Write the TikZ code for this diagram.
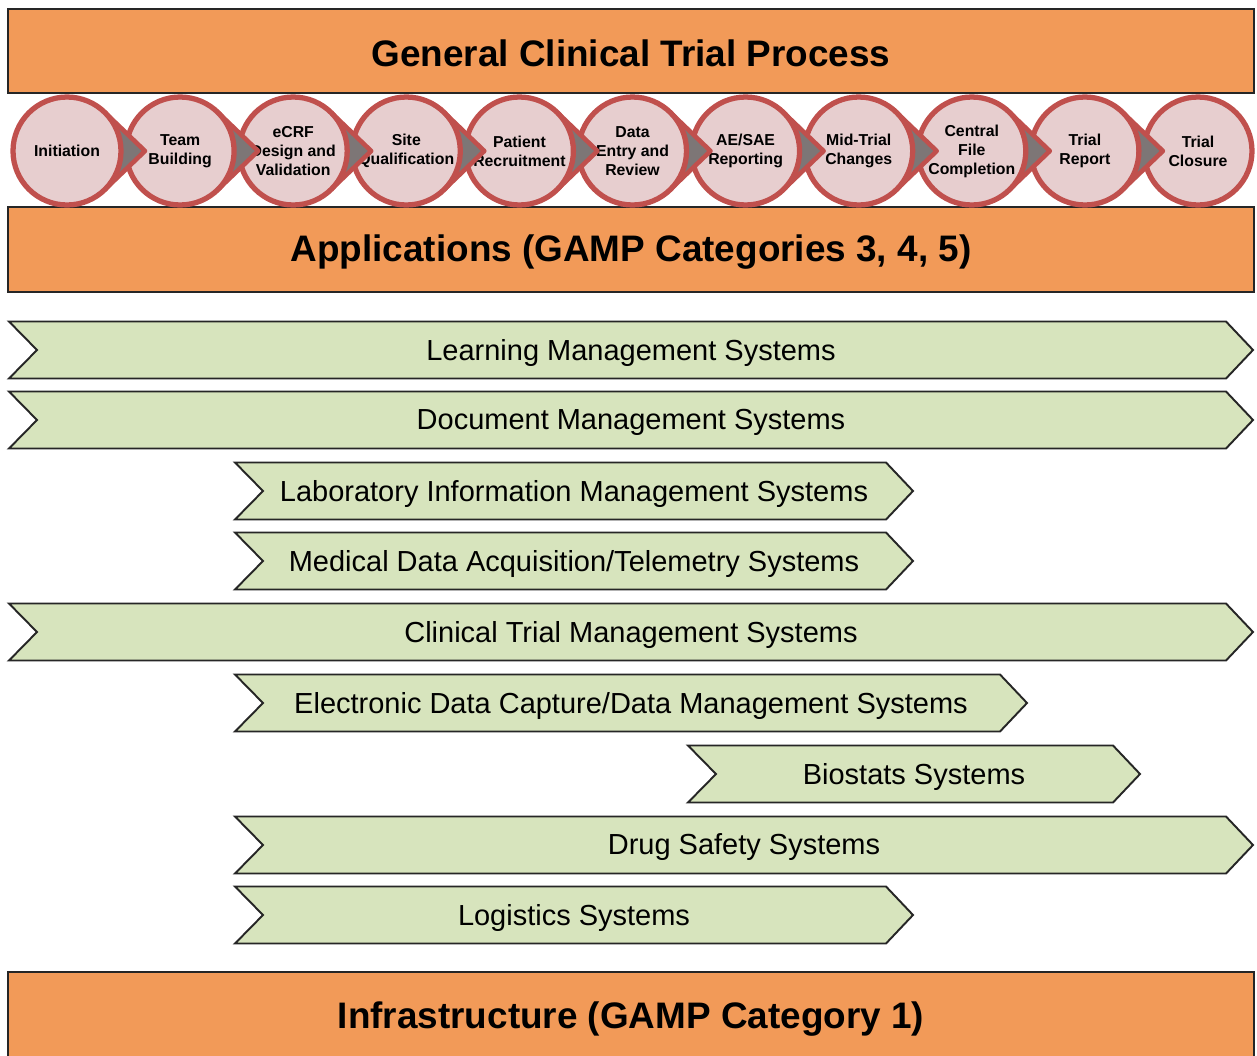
\documentclass[tikz,border=0pt]{standalone}
\usepackage{fontspec}
\setmainfont{Liberation Sans}
\usetikzlibrary{calc, positioning}

\definecolor{bandorange}{RGB}{242,154,88}
\definecolor{barsgreen}{RGB}{215,228,189}
\definecolor{stagepink}{RGB}{231,206,207}
\definecolor{stagered}{RGB}{192,80,77}
\definecolor{tipgray}{RGB}{125,118,118}

\begin{document}
\begin{tikzpicture}[x=0.02cm, y=-0.02cm]
    % Styles
    \tikzstyle{band} = [rectangle, draw=black!85, line width=1.1pt, fill=bandorange, minimum width=24.92cm, font=\fontsize{21}{25}\selectfont\bfseries]
    \tikzstyle{bandtext} = [font=\fontsize{21}{25}\selectfont\bfseries]
    \tikzstyle{stage} = [circle, draw=stagered, line width=3pt, fill=stagepink, minimum size=2.16cm, inner sep=0pt, align=center, font=\fontsize{9}{10.8}\selectfont\bfseries]
    \tikzstyle{stagetip} = [draw=stagered, line width=2.6pt, line join=round]
    \tikzstyle{sysbar} = [draw=black!85, line width=1.1pt, fill=barsgreen, line join=miter]
    \tikzstyle{systext} = [font=\fontsize{16.5}{20}\selectfont]

    \useasboundingbox (0,0) rectangle (1257,1055);

    % Orange bands
    \node[band, minimum height=1.68cm] (process) at (631,51) {};
    \node[band, minimum height=1.70cm] (apps) at (631,249.5) {};
    \node[band, minimum height=1.76cm] (infra) at (631,1016) {};
    \node[bandtext] (processtxt) at (631,53) {General Clinical Trial Process};
    \node[bandtext] (appstxt) at (631,252.5) {Applications (GAMP Categories 3, 4, 5)};
    \node[bandtext] (infratxt) at (631,1019) {Infrastructure (GAMP Category 1)};

    % Trial stages (drawn right to left so each tip lies on the next circle)
    \foreach \i/\txt in {11/{Trial\\Closure}, 10/{Trial\\Report}, 9/{Central\\File\\Completion},
                         8/{Mid-Trial\\Changes}, 7/{AE/SAE\\Reporting}, 6/{Data\\Entry and\\Review},
                         5/{Patient\\Recruitment}, 4/{Site\\Qualification}, 3/{eCRF\\Design and\\Validation},
                         2/{Team\\Building}, 1/{Initiation}}
    {
        \coordinate (c\i) at ({67+113.1*(\i-1)},151);
        \ifnum\i<11
            \fill[tipgray] ($(c\i)+(45:54)$) -- ($(c\i)+(78,0)$) -- ($(c\i)+(-45:54)$) -- cycle;
        \fi
        \node[stage] (s\i) at (c\i) {\txt};
        \ifnum\i<11
            \draw[stagetip] ($(c\i)+(45:54)$) -- ($(c\i)+(78,0)$) -- ($(c\i)+(-45:54)$);
        \fi
    }

    % Application systems
    \foreach \n/\xa/\xb/\yc/\txt in {lms/9/1253/350/{Learning Management Systems},
                                     dms/9/1253/420/{Document Management Systems},
                                     lims/235/913/491/{Laboratory Information Management Systems},
                                     mdat/235/913/561/{Medical Data Acquisition/Telemetry Systems},
                                     ctms/9/1253/632/{Clinical Trial Management Systems},
                                     edc/235/1027/703/{Electronic Data Capture/Data Management Systems},
                                     biostat/688/1140/774/{Biostats Systems},
                                     safety/235/1253/845/{Drug Safety Systems},
                                     logist/235/913/915/{Logistics Systems}}
    {
        \draw[sysbar] (\xa,\yc-28.5) -- (\xb-27,\yc-28.5) -- (\xb,\yc) -- (\xb-27,\yc+28.5)
                      -- (\xa,\yc+28.5) -- (\xa+28,\yc) -- cycle;
        \node[systext] (\n) at ({(\xa+\xb)/2},\yc+2.5) {\txt};
    }
\end{tikzpicture}
\end{document}
